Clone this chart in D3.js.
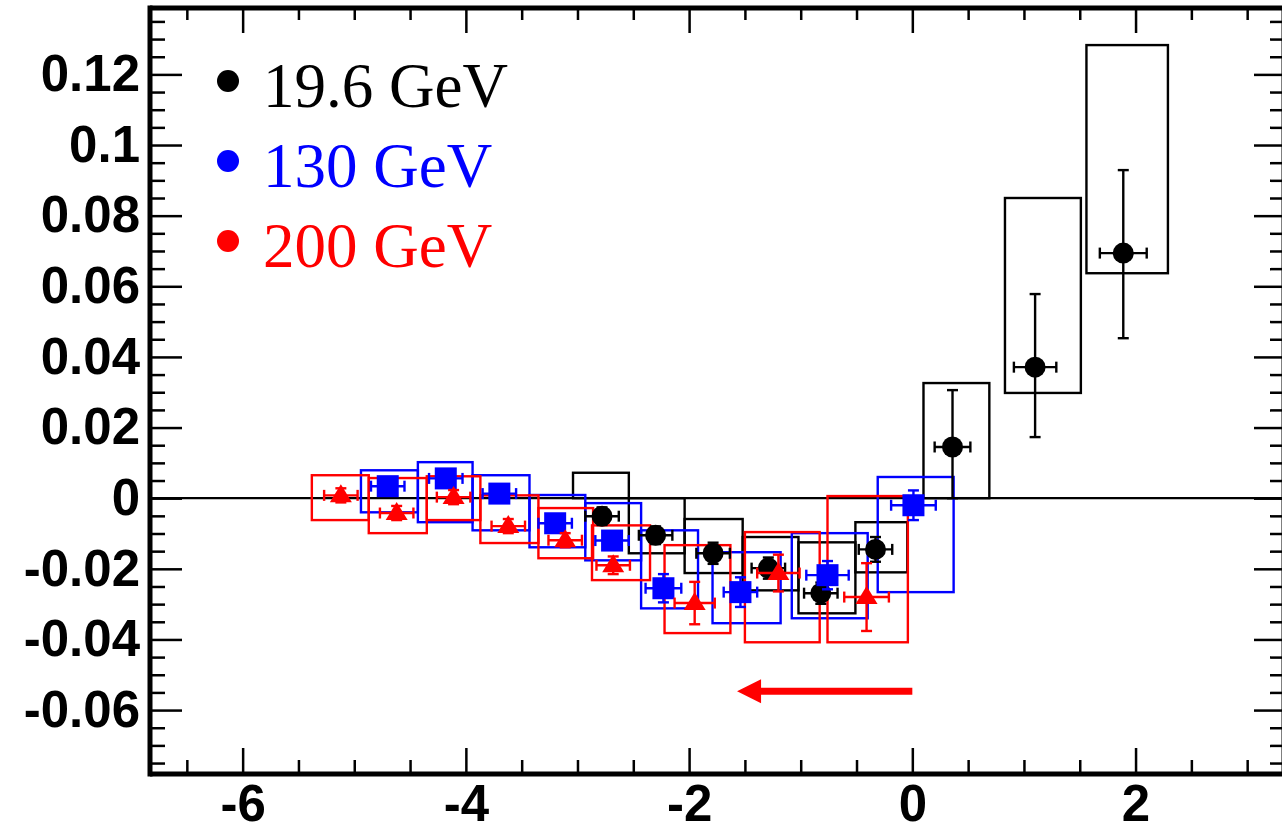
<!DOCTYPE html>
<html><head><meta charset="utf-8">
<script src="https://cdn.jsdelivr.net/npm/d3@7/dist/d3.min.js"></script>
<style>body{margin:0;background:#fff;}svg{display:block;}</style>
</head><body>
<svg id="chart" width="1282" height="832"></svg>
<script>
// ---------- data ----------
const xMajorTicks = [-6, -4, -2, 0, 2];
const xTickLabels = ["-6", "-4", "-2", "0", "2"];
const yMajorTicks = [-0.06, -0.04, -0.02, 0, 0.02, 0.04, 0.06, 0.08, 0.1, 0.12];
const yTickLabels = ["-0.06", "-0.04", "-0.02", "0", "0.02", "0.04", "0.06", "0.08", "0.1", "0.12"];

const legendLabels = ["19.6 GeV", "130 GeV", "200 GeV"];

// 19.6 GeV (black)
const blackX     = [-2.78, -2.30, -1.785, -1.29, -0.82, -0.33, 0.36, 1.10, 1.89];
const blackY     = [-0.0051, -0.0105, -0.0156, -0.0198, -0.0269, -0.0145, 0.0145, 0.0371, 0.0694];
const blackXErr  = [0.15, 0.15, 0.15, 0.15, 0.15, 0.15, 0.16, 0.19, 0.21];
const blackYErrUp = [0.0025, 0.0025, 0.003, 0.003, 0.003, 0.0035, 0.0161, 0.0207, 0.0235];
const blackYErrDn = [0.0025, 0.0025, 0.003, 0.003, 0.003, 0.0035, 0.0145, 0.0198, 0.0241];
const blackBoxX0 = [-3.04, -2.54, -2.04, -1.52, -1.02, -0.51, 0.10, 0.83, 1.56];
const blackBoxX1 = [-2.54, -2.04, -1.52, -1.02, -0.51, -0.045, 0.69, 1.51, 2.29];
const blackBoxLo = [0.0, -0.0156, -0.0212, -0.0261, -0.0326, -0.021, 0.0, 0.0298, 0.0637];
const blackBoxHi = [0.0072, 0.0, -0.0059, -0.0110, -0.0125, -0.0068, 0.0326, 0.085, 0.1283];

// 130 GeV (blue)
const blueX     = [-4.70, -4.18, -3.70, -3.20, -2.69, -2.23, -1.54, -0.76, 0.01];
const blueY     = [0.0034, 0.0056, 0.0013, -0.0071, -0.012, -0.0255, -0.0266, -0.0218, -0.002];
const blueXErr  = [0.15, 0.15, 0.15, 0.15, 0.15, 0.16, 0.15, 0.19, 0.2];
const blueYErr  = [0.002, 0.002, 0.002, 0.002, 0.002, 0.004, 0.0042, 0.004, 0.0042];
const blueBoxX0 = [-4.94, -4.43, -3.94, -3.43, -2.93, -2.43, -1.79, -1.08, -0.31];
const blueBoxX1 = [-4.43, -3.94, -3.43, -2.93, -2.43, -1.92, -1.18, -0.40, 0.37];
const blueBoxLo = [-0.004, -0.0068, -0.0091, -0.0139, -0.0176, -0.0312, -0.0354, -0.034, -0.0266];
const blueBoxHi = [0.0079, 0.0102, 0.0065, 0.0009, -0.0014, -0.0091, -0.0153, -0.0099, 0.006];

// 200 GeV (red)
const redX     = [-5.12, -4.62, -4.11, -3.62, -3.11, -2.68, -1.95, -1.20, -0.41];
const redY     = [0.0008, -0.0042, 0.0003, -0.0079, -0.0119, -0.019, -0.0297, -0.0212, -0.028];
const redXErr  = [0.15, 0.15, 0.15, 0.15, 0.15, 0.15, 0.18, 0.19, 0.2];
const redYErr  = [0.002, 0.002, 0.002, 0.002, 0.002, 0.0025, 0.006, 0.0052, 0.0096];
const redBoxX0 = [-5.38, -4.87, -4.35, -3.87, -3.35, -2.87, -2.22, -1.50, -0.76];
const redBoxX1 = [-4.87, -4.35, -3.87, -3.35, -2.86, -2.35, -1.63, -0.83, -0.04];
const redBoxLo = [-0.0062, -0.0099, -0.0062, -0.0127, -0.017, -0.0232, -0.0382, -0.0408, -0.0408];
const redBoxHi = [0.0065, 0.0057, 0.0062, 0.0008, -0.0028, -0.0077, -0.0133, -0.0096, 0.0006];

// arrow (x from, x to, y)
const arrowFromX = 0.0, arrowToX = -1.57, arrowY = -0.0547;

// ---------- layout ----------
const svg = d3.select("#chart");
const L = 150, R = 1284, T = 8, B = 774;
const x = d3.scaleLinear().domain([-6.83, 3.33]).range([L, R]);
const y = d3.scaleLinear().domain([-0.0781, 0.1388]).range([B, T]);

const d3range = (a, b, s) => { const out = []; for (let v = a; v <= b + 1e-9; v += s) out.push(+v.toFixed(4)); return out; };
const xMinor = d3range(-6.5, 3.0, 0.5).filter(v => !xMajorTicks.includes(v));
const yMinor = d3range(-0.075, 0.135, 0.005).filter(v => !yMajorTicks.some(m => Math.abs(m - v) < 1e-6));

const tickFont = "bold 51px 'Liberation Sans', Arial, sans-serif";

function styleAxis(g) {
  g.select(".domain").remove();
  g.selectAll(".tick line").attr("stroke", "#000").attr("stroke-width", 2.5);
  g.selectAll("text").style("font", tickFont).attr("fill", "#000");
}

// bottom axis
svg.append("g").attr("transform", `translate(0,${B})`)
  .call(d3.axisBottom(x).tickValues(xMajorTicks).tickSize(-26).tickPadding(11)
        .tickFormat((d, i) => xTickLabels[i])).call(styleAxis)
  .selectAll("text").attr("dy", "0.71em");
svg.append("g").attr("transform", `translate(0,${B})`)
  .call(d3.axisBottom(x).tickValues(xMinor).tickSize(-14).tickFormat("")).call(styleAxis);
// top axis
svg.append("g").attr("transform", `translate(0,${T})`)
  .call(d3.axisTop(x).tickValues(xMajorTicks).tickSize(-25).tickFormat("")).call(styleAxis);
svg.append("g").attr("transform", `translate(0,${T})`)
  .call(d3.axisTop(x).tickValues(xMinor).tickSize(-12).tickFormat("")).call(styleAxis);
// left axis
svg.append("g").attr("transform", `translate(${L},0)`)
  .call(d3.axisLeft(y).tickValues(yMajorTicks).tickSize(-32).tickPadding(10)
        .tickFormat((d, i) => yTickLabels[i])).call(styleAxis);
svg.append("g").attr("transform", `translate(${L},0)`)
  .call(d3.axisLeft(y).tickValues(yMinor).tickSize(-15).tickFormat("")).call(styleAxis);
// right axis
svg.append("g").attr("transform", `translate(${R},0)`)
  .call(d3.axisRight(y).tickValues(yMajorTicks).tickSize(-30).tickFormat("")).call(styleAxis);
svg.append("g").attr("transform", `translate(${R},0)`)
  .call(d3.axisRight(y).tickValues(yMinor).tickSize(-14).tickFormat("")).call(styleAxis);

// frame
const frame = svg.append("g").attr("stroke", "#000").attr("stroke-width", 5).attr("fill", "none");
frame.append("line").attr("x1", L).attr("x2", R).attr("y1", T).attr("y2", T);
frame.append("line").attr("x1", L).attr("x2", R).attr("y1", B).attr("y2", B);
frame.append("line").attr("x1", L).attr("x2", L).attr("y1", T - 2.5).attr("y2", B + 2.5);
frame.append("line").attr("x1", R).attr("x2", R).attr("y1", T).attr("y2", B);

// zero line
svg.append("line").attr("x1", L).attr("x2", R).attr("y1", y(0)).attr("y2", y(0))
  .attr("stroke", "#000").attr("stroke-width", 2.2);

// ---------- series ----------
const series = [
  { color: "#000", X: blackX, Y: blackY, XE: blackXErr, YU: blackYErrUp, YD: blackYErrDn,
    BX0: blackBoxX0, BX1: blackBoxX1, BLo: blackBoxLo, BHi: blackBoxHi, marker: "circle" },
  { color: "#0000ff", X: blueX, Y: blueY, XE: blueXErr, YU: blueYErr, YD: blueYErr,
    BX0: blueBoxX0, BX1: blueBoxX1, BLo: blueBoxLo, BHi: blueBoxHi, marker: "square" },
  { color: "#ff0000", X: redX, Y: redY, XE: redXErr, YU: redYErr, YD: redYErr,
    BX0: redBoxX0, BX1: redBoxX1, BLo: redBoxLo, BHi: redBoxHi, marker: "triangle" }
];

// boxes
series.forEach(s => {
  svg.append("g").selectAll("rect").data(s.X).join("rect")
    .attr("x", (d, i) => x(s.BX0[i]))
    .attr("width", (d, i) => x(s.BX1[i]) - x(s.BX0[i]))
    .attr("y", (d, i) => y(s.BHi[i]))
    .attr("height", (d, i) => y(s.BLo[i]) - y(s.BHi[i]))
    .attr("fill", "none").attr("stroke", s.color).attr("stroke-width", 2.4);
});

// error bars + markers
const cap = 5.5;
series.forEach(s => {
  const g = svg.append("g").attr("stroke", s.color).attr("stroke-width", 2.4).attr("fill", "none");
  s.X.forEach((xv, i) => {
    const cx = x(xv), cy = y(s.Y[i]);
    const xl = x(xv - s.XE[i]), xr = x(xv + s.XE[i]);
    const yt = y(s.Y[i] + s.YU[i]), yb = y(s.Y[i] - s.YD[i]);
    g.append("line").attr("x1", xl).attr("x2", xr).attr("y1", cy).attr("y2", cy);
    g.append("line").attr("x1", xl).attr("x2", xl).attr("y1", cy - cap).attr("y2", cy + cap);
    g.append("line").attr("x1", xr).attr("x2", xr).attr("y1", cy - cap).attr("y2", cy + cap);
    g.append("line").attr("x1", cx).attr("x2", cx).attr("y1", yt).attr("y2", yb);
    g.append("line").attr("x1", cx - cap).attr("x2", cx + cap).attr("y1", yt).attr("y2", yt);
    g.append("line").attr("x1", cx - cap).attr("x2", cx + cap).attr("y1", yb).attr("y2", yb);
  });
  const mg = svg.append("g").attr("fill", s.color);
  s.X.forEach((xv, i) => {
    const cx = x(xv), cy = y(s.Y[i]);
    if (s.marker === "circle") {
      mg.append("circle").attr("cx", cx).attr("cy", cy).attr("r", 10.5);
    } else if (s.marker === "square") {
      mg.append("rect").attr("x", cx - 11).attr("y", cy - 11).attr("width", 22).attr("height", 22);
    } else {
      mg.append("path").attr("d", `M${cx - 11},${cy + 7} L${cx + 11},${cy + 7} L${cx},${cy - 11} Z`);
    }
  });
});

// arrow
const ax0 = x(arrowFromX), ax1 = x(arrowToX), ay = y(arrowY);
svg.append("line").attr("x1", ax0).attr("x2", ax1 + 20).attr("y1", ay).attr("y2", ay)
  .attr("stroke", "#ff0000").attr("stroke-width", 7);
svg.append("path").attr("d", `M${ax1},${ay} L${ax1 + 24},${ay - 12} L${ax1 + 24},${ay + 12} Z`).attr("fill", "#ff0000");

// legend
const legColors = ["#000", "#0000ff", "#ff0000"];
const leg = svg.append("g");
legendLabels.forEach((t, i) => {
  leg.append("circle").attr("cx", 228).attr("cy", 81 + i * 80).attr("r", 11).attr("fill", legColors[i]);
  leg.append("text").attr("x", 263).attr("y", 107 + i * 80).text(t)
    .attr("fill", legColors[i]).style("font", "63px 'Liberation Serif', 'Times New Roman', serif");
});
</script>
</body></html>
